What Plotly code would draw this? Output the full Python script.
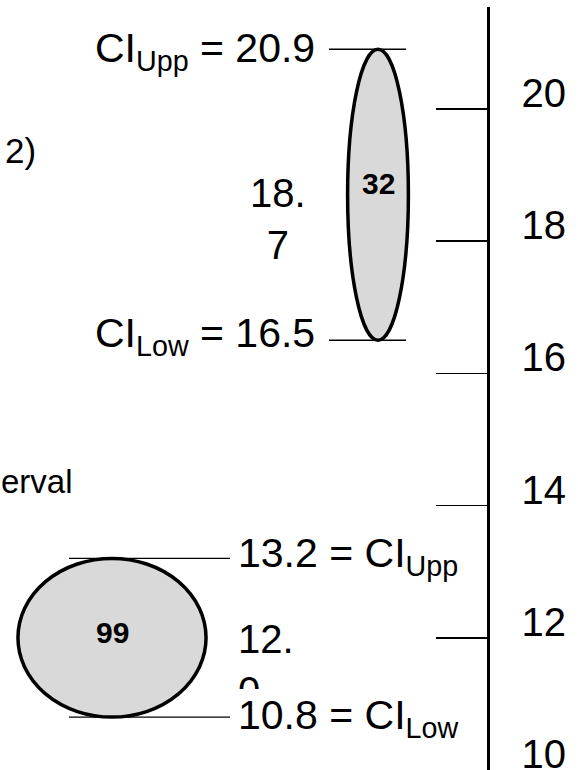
import plotly.graph_objects as go

# ---------------- data ----------------
sample_n = [32, 99]
means = [18.7, 12.0]
ci_low = [16.5, 10.8]
ci_upp = [20.9, 13.2]
tick_vals = [10, 12, 14, 16, 18, 20]
tick_text = ["10", "12", "14", "16", "18", "20"]
side_texts = ["2)", "erval"]

# ---------------- layout constants ----------------
W, H = 578, 770
TOP, BOTTOM = 7, 0
FONT = "Liberation Sans, Arial, sans-serif"
Y_RANGE = [10.0, 21.54]
PX_PER_UNIT = (H - TOP - BOTTOM) / (Y_RANGE[1] - Y_RANGE[0])

centers_x = [378, 112]          # horizontal position of each group (px-based x axis)
width_per_n = 1.9               # ellipse width grows with sample size
line_ext = [(-49, 28), (-43, 118)]


def yv(px):
    """convert a pixel row to a y-axis value (layout helper)"""
    return Y_RANGE[1] - (px - TOP) / PX_PER_UNIT


fig = go.Figure()

# invisible anchor trace for the axes
fig.add_trace(go.Scatter(x=centers_x, y=means, mode="markers",
                         marker=dict(opacity=0), hoverinfo="skip", showlegend=False))

# CI bound lines
for i in range(len(means)):
    x0 = centers_x[i] + line_ext[i][0]
    x1 = centers_x[i] + line_ext[i][1]
    fig.add_trace(go.Scatter(x=[x0, x1, None, x0, x1],
                             y=[ci_upp[i], ci_upp[i], None, ci_low[i], ci_low[i]],
                             mode="lines", line=dict(color="black", width=1.4),
                             hoverinfo="skip", showlegend=False))

# ellipses (height = CI, width ~ n)
for i in range(len(means)):
    half = sample_n[i] * width_per_n / 2
    fig.add_shape(type="circle", xref="x", yref="y",
                  x0=centers_x[i] - half, x1=centers_x[i] + half,
                  y0=ci_low[i], y1=ci_upp[i],
                  fillcolor="#d9d9d9", line=dict(color="black", width=3.5))


def ann(text, x, y, xanchor="center", yanchor="middle", size=41, yshift=0,
        align="left", **kw):
    fig.add_annotation(text=text, x=x, y=y, xref="x", yref="y",
                       xanchor=xanchor, yanchor=yanchor, yshift=yshift,
                       showarrow=False, align=align, borderpad=0, borderwidth=0,
                       font=dict(family=FONT, size=size, color="black"), **kw)


# group 1 (n = 32): labels to the left
ann(f"CI<sub>Upp</sub> = {ci_upp[0]:.1f}", 315, ci_upp[0], xanchor="right", yshift=-2)
ann(f"CI<sub>Low</sub> = {ci_low[0]:.1f}", 315, ci_low[0], xanchor="right", yshift=4)
ann(f"{means[0]:.1f}".replace(".", ".<br>"), 278, means[0], align="center",
    size=40, yshift=-24)
ann(f"<b>{sample_n[0]}</b>", centers_x[0], means[0], size=30, yshift=11)

# group 2 (n = 99): labels to the right
ann(f"{ci_upp[1]:.1f} = CI<sub>Upp</sub>", 238, ci_upp[1], xanchor="left", yshift=2)
ann(f"{ci_low[1]:.1f} = CI<sub>Low</sub>", 238, ci_low[1], xanchor="left", yshift=-1)
ann(f"{means[1]:.1f}".replace(".", ".<br>"), 238, means[1], xanchor="left",
    yanchor="top", size=40, yshift=21, height=72, valign="top")
ann(f"<b>{sample_n[1]}</b>", centers_x[1], means[1], size=30, yshift=5)

# partially visible side texts (cut in the original figure)
ann(side_texts[0], 36, yv(150), xanchor="right", size=35)
ann(side_texts[1], 1, yv(481), xanchor="left", size=33)

fig.update_layout(
    width=W, height=H, autosize=False,
    margin=dict(l=0, r=0, t=TOP, b=BOTTOM, pad=0, autoexpand=False),
    paper_bgcolor="white", plot_bgcolor="white",
    showlegend=False,
    xaxis=dict(range=[0, W], visible=False, fixedrange=True, automargin=False),
    yaxis=dict(range=Y_RANGE, side="right", anchor="free", position=488 / W,
               automargin=False,
               showgrid=False, zeroline=False,
               showline=True, linecolor="black", linewidth=2.5,
               ticks="inside", ticklen=51, tickwidth=1.5, tickcolor="black",
               tickvals=tick_vals, ticktext=tick_text,
               tickfont=dict(family=FONT, size=40, color="black"),
               ticklabelshift=-16, ticklabelstandoff=24,
               ticklabeloverflow="allow", fixedrange=True),
)

fig.write_html("out.html",
               config={"displayModeBar": False, "staticPlot": True},
               post_script="document.body.style.margin='0';"
                           "document.body.style.overflow='hidden';")
